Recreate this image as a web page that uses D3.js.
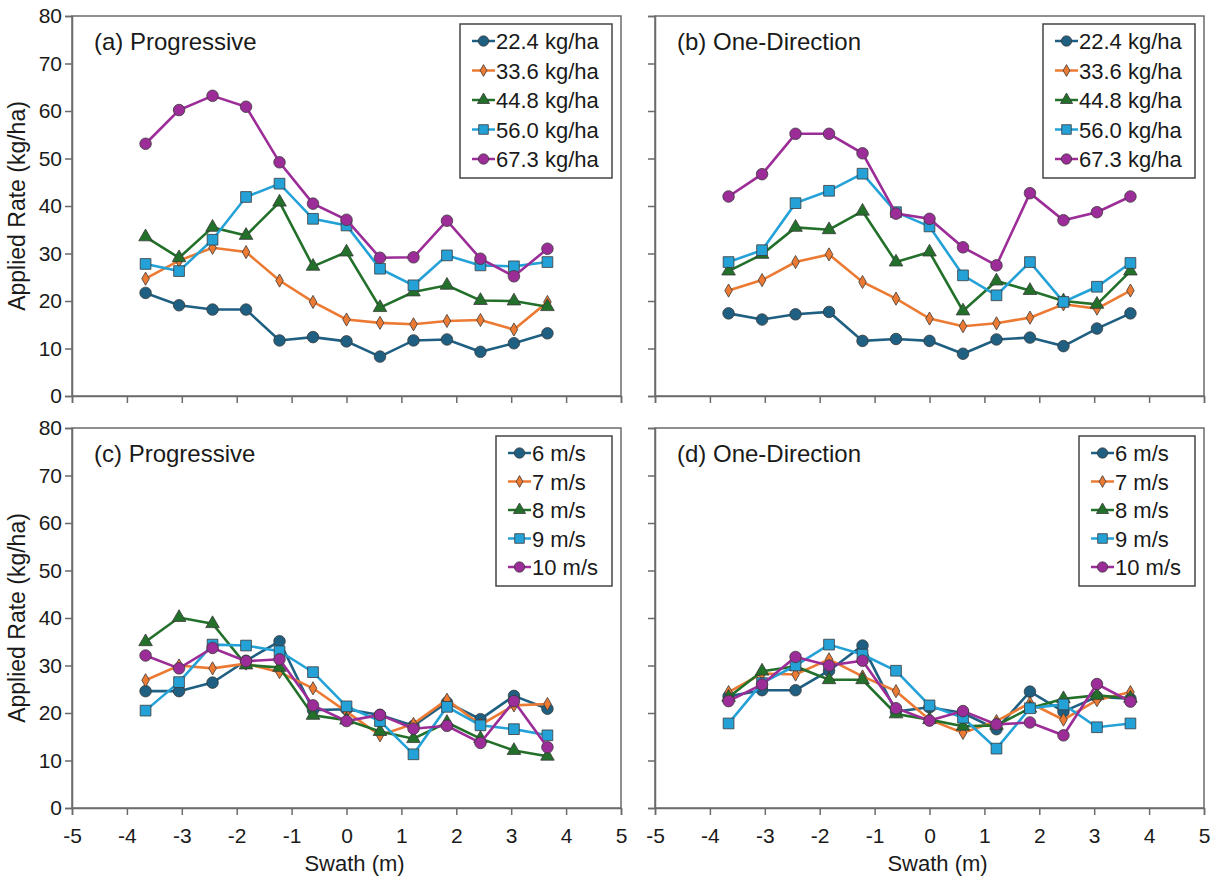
<!DOCTYPE html>
<html>
<head>
<meta charset="utf-8">
<script src="https://cdn.jsdelivr.net/npm/d3@7"></script>
<style>
  body { margin: 0; background: #fff; }
  text { font-family: "Liberation Sans", Arial, sans-serif; fill: #1a1a1a; }
</style>
</head>
<body>
<script>
// swath positions (m)
const swath = [-3.66, -3.05, -2.44, -1.83, -1.22, -0.61, 0, 0.61, 1.22, 1.83, 2.44, 3.05, 3.66];

// (a) progressive, by rate
const rateLabels = ["22.4 kg/ha", "33.6 kg/ha", "44.8 kg/ha", "56.0 kg/ha", "67.3 kg/ha"];
const progRate22 = [21.7, 19.1, 18.2, 18.2, 11.7, 12.4, 11.5, 8.3, 11.7, 11.9, 9.3, 11.1, 13.2];
const progRate33 = [24.7, 28.5, 31.2, 30.3, 24.3, 19.8, 16.1, 15.4, 15.1, 15.8, 16.0, 14.0, 19.8];
const progRate44 = [33.5, 29.1, 35.5, 33.8, 40.8, 27.3, 30.3, 18.6, 21.9, 23.3, 20.1, 20.0, 18.8];
const progRate56 = [27.8, 26.3, 32.9, 41.9, 44.7, 37.3, 35.9, 26.8, 23.3, 29.6, 27.5, 27.3, 28.2];
const progRate67 = [53.1, 60.2, 63.2, 60.9, 49.2, 40.5, 37.1, 29.1, 29.2, 36.9, 28.9, 25.2, 31.0];

// (b) one-direction, by rate
const oneRate22 = [17.4, 16.1, 17.2, 17.7, 11.6, 12.0, 11.6, 8.9, 11.9, 12.3, 10.5, 14.2, 17.4];
const oneRate33 = [22.2, 24.4, 28.2, 29.8, 24.0, 20.5, 16.3, 14.7, 15.3, 16.5, 19.3, 18.4, 22.2];
const oneRate44 = [26.3, 29.8, 35.5, 35.0, 38.9, 28.2, 30.3, 17.9, 24.2, 22.2, 20.0, 19.3, 26.3];
const oneRate56 = [28.2, 30.7, 40.6, 43.2, 46.8, 38.7, 35.7, 25.4, 21.2, 28.2, 19.8, 23.0, 28.0];
const oneRate67 = [42.0, 46.7, 55.2, 55.2, 51.1, 38.4, 37.3, 31.3, 27.5, 42.7, 37.0, 38.7, 42.0];

// (c) progressive, by disc speed
const speedLabels = ["6 m/s", "7 m/s", "8 m/s", "9 m/s", "10 m/s"];
const progSpeed6  = [24.6, 24.6, 26.4, 31.0, 35.1, 20.6, 20.8, 19.6, 17.3, 22.2, 18.7, 23.6, 20.9];
const progSpeed7  = [26.9, 30.0, 29.4, 30.4, 28.6, 25.2, 20.3, 15.3, 17.7, 22.8, 17.5, 21.6, 21.9];
const progSpeed8  = [35.0, 40.1, 38.8, 30.1, 29.6, 19.5, 18.5, 16.1, 14.6, 18.0, 14.6, 12.1, 10.9];
const progSpeed9  = [20.5, 26.5, 34.4, 34.2, 33.0, 28.6, 21.4, 18.3, 11.3, 21.3, 17.4, 16.6, 15.3];
const progSpeed10 = [32.1, 29.4, 33.7, 30.9, 31.3, 21.6, 18.3, 19.6, 16.7, 17.3, 13.7, 22.5, 12.8];

// (d) one-direction, by disc speed
const oneSpeed6  = [23.5, 24.8, 24.8, 28.9, 34.2, 20.3, 21.2, 20.0, 16.6, 24.5, 20.3, 23.4, 23.0];
const oneSpeed7  = [24.4, 28.3, 28.1, 31.3, 27.7, 24.6, 18.6, 15.8, 18.3, 22.1, 18.6, 22.7, 24.4];
const oneSpeed8  = [23.3, 28.8, 29.8, 27.0, 27.0, 19.8, 18.6, 17.2, 17.4, 21.0, 23.0, 23.7, 23.1];
const oneSpeed9  = [17.8, 26.3, 30.0, 34.4, 32.3, 28.9, 21.6, 19.0, 12.5, 21.0, 21.8, 17.0, 17.8];
const oneSpeed10 = [22.5, 26.0, 31.8, 30.0, 31.0, 21.0, 18.4, 20.4, 17.6, 18.0, 15.3, 26.1, 22.4];

const xTicks = [-5, -4, -3, -2, -1, 0, 1, 2, 3, 4, 5];
const yTicks = [0, 10, 20, 30, 40, 50, 60, 70, 80];

// series styling (same order in every panel)
const colors = ["#1e5f82", "#ec7a33", "#22702a", "#24a2d8", "#9c2d98"];
const shapes = [d3.symbolCircle, d3.symbolDiamond, d3.symbolTriangle, d3.symbolSquare, d3.symbolCircle];
const sizes  = [105, 50, 80, 115, 105];

const panels = [
  { title: "(a) Progressive",   col: 0, row: 0, labels: rateLabels,  series: [progRate22, progRate33, progRate44, progRate56, progRate67] },
  { title: "(b) One-Direction", col: 1, row: 0, labels: rateLabels,  series: [oneRate22, oneRate33, oneRate44, oneRate56, oneRate67] },
  { title: "(c) Progressive",   col: 0, row: 1, labels: speedLabels, series: [progSpeed6, progSpeed7, progSpeed8, progSpeed9, progSpeed10] },
  { title: "(d) One-Direction", col: 1, row: 1, labels: speedLabels, series: [oneSpeed6, oneSpeed7, oneSpeed8, oneSpeed9, oneSpeed10] }
];

const width = 1211, height = 880;
const colLeft = [72, 655];
const rowTop = [16, 428];
const plotW = 549, plotH = 380;

const svg = d3.select("body").append("svg")
    .attr("width", width)
    .attr("height", height);

panels.forEach(p => {
  const left = colLeft[p.col], top = rowTop[p.row];
  const x = d3.scaleLinear().domain([-5, 5]).range([left, left + plotW]);
  const y = d3.scaleLinear().domain([0, 80]).range([top + plotH, top]);
  const g = svg.append("g");

  // frame
  g.append("rect")
      .attr("x", left).attr("y", top)
      .attr("width", plotW).attr("height", plotH)
      .attr("fill", "none").attr("stroke", "#6b6b6b").attr("stroke-width", 1.5);

  // axes
  const xa = g.append("g")
      .attr("transform", `translate(0,${top + plotH})`)
      .call(d3.axisBottom(x).tickValues(xTicks).tickSize(7).tickPadding(13)
        .tickFormat(p.row === 1 ? (d => String(d)) : () => ""));
  const ya = g.append("g")
      .attr("transform", `translate(${left},0)`)
      .call(d3.axisLeft(y).tickValues(yTicks).tickSize(7).tickPadding(3)
        .tickFormat(p.col === 0 ? (d => String(d)) : () => ""));
  [xa, ya].forEach(a => {
    a.select(".domain").attr("stroke", "#6b6b6b").attr("stroke-width", 1.5);
    a.selectAll(".tick line").attr("stroke", "#6b6b6b").attr("stroke-width", 1.5);
    a.selectAll(".tick text").attr("font-size", 21).attr("fill", "#1a1a1a")
      .style("font-family", '"Liberation Sans", Arial, sans-serif');
  });

  // series
  const line = d3.line().x((d, i) => x(swath[i])).y(d => y(d));
  p.series.forEach((vals, k) => {
    g.append("path")
        .datum(vals)
        .attr("d", line)
        .attr("fill", "none")
        .attr("stroke", colors[k])
        .attr("stroke-width", 2.6);
    g.selectAll(null)
      .data(vals)
      .join("path")
        .attr("transform", (d, i) => `translate(${x(swath[i])},${y(d)})`)
        .attr("d", d3.symbol(shapes[k], sizes[k]))
        .attr("fill", colors[k])
        .attr("stroke", "#3a3a3a")
        .attr("stroke-width", 0.8);
  });

  // title
  g.append("text")
      .attr("x", left + 22).attr("y", top + 34)
      .attr("font-size", 24)
      .text(p.title);

  // legend
  const isRate = p.labels === rateLabels;
  const lw = isRate ? 152 : 116;
  const step = isRate ? 29.5 : 28.5;
  const lx = left + plotW - 9 - lw, ly = top + 8;
  const lg = g.append("g").attr("transform", `translate(${lx},${ly})`);
  lg.append("rect")
      .attr("width", lw).attr("height", 17 + 4 * step + 19)
      .attr("fill", "#fff").attr("stroke", "#444").attr("stroke-width", 1.5);
  p.labels.forEach((lab, k) => {
    const cy = 17 + k * step;
    lg.append("line")
        .attr("x1", 12).attr("x2", 35).attr("y1", cy).attr("y2", cy)
        .attr("stroke", colors[k]).attr("stroke-width", 2.5);
    lg.append("path")
        .attr("transform", `translate(23.5,${cy})`)
        .attr("d", d3.symbol(shapes[k], sizes[k] * 0.8))
        .attr("fill", colors[k]).attr("stroke", "#3a3a3a").attr("stroke-width", 0.8);
    lg.append("text")
        .attr("x", 36).attr("y", cy + 8)
        .attr("font-size", 22)
        .text(lab);
  });

  // axis titles
  if (p.col === 0) {
    g.append("text")
        .attr("transform", `translate(25,${top + plotH / 2}) rotate(-90)`)
        .attr("text-anchor", "middle")
        .attr("font-size", 23)
        .text("Applied Rate (kg/ha)");
  }
  if (p.row === 1) {
    g.append("text")
        .attr("x", left + plotW / 2 + 8).attr("y", top + plotH + 63)
        .attr("text-anchor", "middle")
        .attr("font-size", 22)
        .text("Swath (m)");
  }
});
</script>
</body>
</html>
